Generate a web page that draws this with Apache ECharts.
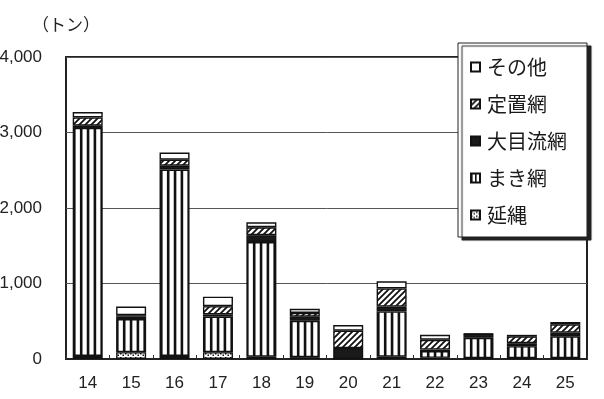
<!DOCTYPE html>
<html>
<head>
<meta charset="utf-8">
<script src="https://cdn.jsdelivr.net/npm/echarts@6/dist/echarts.min.js"></script>
<style>
  html, body { margin: 0; padding: 0; background: #fff; }
  #chart { width: 604px; height: 399px; }
</style>
</head>
<body>
<div id="chart"></div>
<script>
// 年度（平成）
const years = ['14', '15', '16', '17', '18', '19', '20', '21', '22', '23', '24', '25'];

// 漁業種類別漁獲量（トン）
const haenawa   = [40, 90, 40, 90, 30, 25, 5, 30, 15, 10, 10, 10];              // 延縄
const makiami   = [3020, 440, 2470, 470, 1520, 480, 0, 600, 90, 270, 160, 290]; // まき網
const oomeRyuu  = [30, 30, 50, 30, 90, 55, 140, 65, 20, 45, 40, 50];           // 大目流網
const teichiami = [110, 20, 80, 110, 105, 50, 230, 240, 130, 5, 90, 110];      // 定置網
const sonota    = [70, 115, 95, 125, 65, 55, 75, 95, 65, 5, 20, 30];           // その他

const yTicks = [0, 1000, 2000, 3000, 4000];

const BAR_W = 30;

// --- monochrome fill patterns ---
function tile(w, h, draw) {
  const c = document.createElement('canvas');
  c.width = w; c.height = h;
  const g = c.getContext('2d');
  g.fillStyle = '#fff';
  g.fillRect(0, 0, w, h);
  g.fillStyle = '#111';
  g.strokeStyle = '#111';
  draw(g, w, h);
  return { image: c, repeat: 'repeat' };
}
const stripeIcon = tile(4, 4, g => { g.fillRect(0, 0, 1.6, 4); });
const hatchPattern = tile(6, 6, g => {
  g.lineWidth = 1.8;
  g.beginPath();
  g.moveTo(-1, 7); g.lineTo(7, -1);
  g.moveTo(-4, 4); g.lineTo(4, -4);
  g.moveTo(2, 10); g.lineTo(10, 2);
  g.stroke();
});
const dotPattern = tile(5, 4, g => {
  g.fillRect(0, 1, 1.5, 1.5);
  g.fillRect(2.5, 2.5, 1.5, 1.5);
});

// vertical stripes in phase with a bar whose left edge is at `left`
const stripeOffsets = [0, 6.9, 13.75, 20.6, 27.4];
function stripesFor(left) {
  const s = ((left % BAR_W) + BAR_W) % BAR_W;
  return tile(BAR_W, 4, g => {
    stripeOffsets.forEach(p => {
      const x = (s + p) % BAR_W;
      g.fillRect(x, 0, 2.6, 4);
      if (x + 2.6 > BAR_W) g.fillRect(x - BAR_W, 0, 2.6, 4);
    });
  });
}

const font = "'Liberation Sans', 'Noto Sans CJK JP', sans-serif";
const jpFont = "'Noto Sans CJK JP', sans-serif";

function seriesOf(name, data, color) {
  return {
    name: name,
    type: 'bar',
    stack: 'total',
    data: data,
    barWidth: BAR_W,
    itemStyle: { color: color, borderColor: '#111', borderWidth: 1.4 },
    emphasis: { disabled: true }
  };
}

const chart = echarts.init(document.getElementById('chart'));
chart.setOption({
  animation: false,
  backgroundColor: '#fff',
  grid: {
    left: 66, right: 17, top: 57, bottom: 40,
    outerBoundsMode: 'none',
    containLabel: false,
    show: true, borderColor: '#222', borderWidth: 2, backgroundColor: 'transparent'
  },
  legend: {
    orient: 'vertical',
    left: 458, top: 43,
    data: ['その他', '定置網', '大目流網', 'まき網', '延縄'],
    icon: 'rect',
    itemWidth: 9, itemHeight: 9,
    itemGap: 17,
    padding: [14, 20, 12, 12],
    backgroundColor: '#fff',
    borderColor: '#222',
    borderWidth: 1,
    shadowColor: '#222',
    shadowBlur: 1,
    shadowOffsetX: 4,
    shadowOffsetY: 3,
    textStyle: { fontFamily: jpFont, fontSize: 20, color: '#1a1a1a', padding: [0, 0, 0, 2] },
    selectedMode: false
  },
  xAxis: {
    type: 'category',
    data: years,
    axisLine: { lineStyle: { color: '#222', width: 2 } },
    axisTick: { show: true, inside: true, length: 4, lineStyle: { color: '#333' } },
    axisLabel: { fontFamily: font, fontSize: 17, color: '#222', margin: 16 }
  },
  yAxis: {
    type: 'value',
    min: yTicks[0], max: yTicks[yTicks.length - 1], interval: 1000,
    name: '（トン）',
    nameLocation: 'end',
    nameGap: 24,
    nameTextStyle: { fontFamily: jpFont, fontSize: 17, color: '#222', align: 'center' },
    axisLine: { show: false },
    axisTick: { show: false },
    splitLine: { show: true, lineStyle: { color: '#555', width: 1 } },
    axisLabel: {
      fontFamily: font, fontSize: 17, color: '#222', margin: 24,
      padding: [4, 0, 0, 0],
      formatter: v => v.toLocaleString('en-US')
    }
  },
  series: [
    seriesOf('延縄', haenawa, dotPattern),
    seriesOf('まき網', makiami, stripeIcon),
    seriesOf('大目流網', oomeRyuu, '#1a1a1a'),
    seriesOf('定置網', teichiami, hatchPattern),
    seriesOf('その他', sonota, '#fff')
  ]
});

// give each まき網 bar its own stripe phase so the stripes sit evenly inside it
const striped = makiami.map((v, i) => {
  const cx = chart.convertToPixel({ xAxisIndex: 0 }, years[i]);
  return { value: v, itemStyle: { color: stripesFor(Math.round(cx - BAR_W / 2)) } };
});
chart.setOption({ series: [{}, { data: striped }] });
</script>
</body>
</html>
